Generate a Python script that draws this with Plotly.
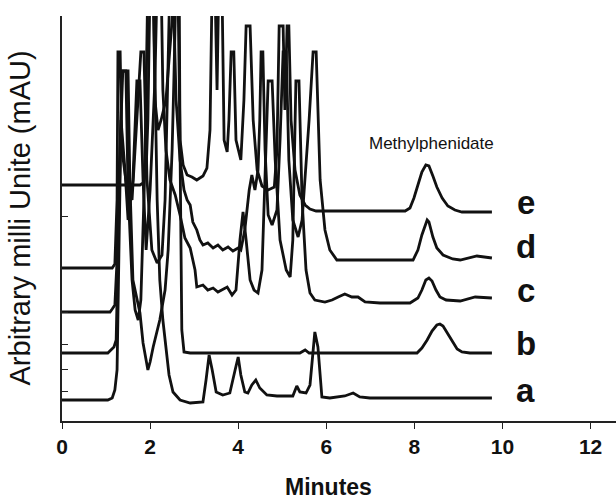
import plotly.graph_objects as go

# ---- data (time in min, signal in arbitrary mAU) ----
t_a = [0, 1.04, 1.14, 1.20, 1.25, 1.29, 1.34, 1.38, 1.45, 1.50, 1.59, 1.66, 1.73, 1.79, 1.88, 1.95, 2.07,
       2.16, 2.22, 2.29, 2.36, 2.43, 2.52, 2.68, 2.91, 3.20, 3.27, 3.34, 3.41, 3.50, 3.65, 3.81, 3.93, 4.00,
       4.06, 4.15, 4.22, 4.31, 4.40, 4.49, 4.65, 4.88, 5.24, 5.33, 5.40, 5.54, 5.63, 5.68, 5.74, 5.81, 5.86,
       5.90, 6.08, 6.42, 6.61, 6.76, 6.99, 9.76]
v_a = [20, 20, 22, 30, 50, 150, 300, 349, 349, 230, 140, 110, 100, 120, 250, 440, 440,
       220, 140, 100, 70, 45, 28, 20, 17, 18, 40, 65, 50, 28, 25, 27, 50, 63,
       45, 28, 27, 35, 40, 32, 25, 24, 24, 34, 28, 27, 35, 60, 88, 73, 40,
       23, 22, 24, 27, 23, 22, 22]

t_b = [0, 1.04, 1.11, 1.18, 1.23, 1.27, 1.32, 1.36, 1.50, 1.54, 1.61, 1.70, 1.77, 1.84, 1.95, 2.00, 2.07,
       2.22, 2.34, 2.41, 2.50, 2.54, 2.59, 2.66, 2.68, 2.72, 2.77, 2.91, 5.40, 5.52, 5.61, 8.06, 8.17, 8.29,
       8.40, 8.51, 8.58, 8.65, 8.76, 8.87, 8.97, 9.08, 9.26, 9.76]
v_b = [67, 67, 70, 73, 80, 170, 270, 349, 349, 240, 140, 120, 107, 77, 50, 58, 73,
       100, 130, 170, 270, 340, 440, 440, 270, 90, 68, 67, 67, 70, 67, 67, 72, 80,
       89, 95, 96, 94, 86, 77, 71, 68, 67, 67]

t_c = [0, 1.09, 1.14, 1.20, 1.25, 1.29, 1.34, 1.43, 1.50, 1.61, 1.70, 1.77, 1.84, 1.91, 2.00, 2.11, 2.16,
       2.25, 2.29, 2.36, 2.45, 2.57, 2.68, 2.79, 2.91, 3.02, 3.06, 3.20, 3.31, 3.43, 3.54, 3.63, 3.75, 3.86,
       3.95, 4.04, 4.11, 4.18, 4.27, 4.36, 4.45, 4.54, 4.63, 4.68, 4.77, 4.84, 4.95, 5.09, 5.18, 5.24, 5.31,
       5.38, 5.45, 5.54, 5.63, 5.74, 5.97, 6.13, 6.27, 6.42, 6.58, 6.72, 6.88, 7.22, 7.90, 8.08, 8.17, 8.26,
       8.33, 8.40, 8.49, 8.58, 8.72, 9.04, 9.38, 9.76]
v_c = [108, 108, 111, 115, 160, 240, 300, 250, 200, 240, 339, 339, 240, 170, 230, 340, 440,
       440, 330, 270, 240, 225, 205, 182, 172, 150, 133, 135, 130, 132, 128, 130, 133, 125,
       130, 180, 208, 180, 140, 130, 127, 150, 270, 339, 339, 260, 180, 150, 143, 180, 339,
       339, 220, 150, 127, 120, 118, 120, 123, 126, 123, 123, 118, 117, 117, 122, 130, 140,
       142, 139, 130, 123, 120, 119, 123, 122]

t_d = [0, 1.14, 1.20, 1.25, 1.27, 1.32, 1.36, 1.48, 1.59, 1.70, 1.79, 1.86, 1.93, 2.04, 2.16, 2.27, 2.34,
       2.41, 2.45, 2.52, 2.59, 2.68, 2.77, 2.84, 2.91, 2.97, 3.06, 3.13, 3.20, 3.31, 3.43, 3.54, 3.65, 3.77,
       3.88, 4.00, 4.06, 4.15, 4.25, 4.31, 4.38, 4.45, 4.49, 4.52, 4.56, 4.61, 4.68, 4.77, 4.88, 4.95, 5.02,
       5.09, 5.15, 5.24, 5.36, 5.45, 5.61, 5.70, 5.77, 5.86, 5.97, 6.08, 6.24, 7.97, 8.08, 8.17, 8.24, 8.29,
       8.33, 8.42, 8.51, 8.65, 8.87, 9.04, 9.42, 9.76]
v_d = [152, 152, 156, 220, 368, 368, 270, 230, 220, 300, 368, 368, 240, 170, 157, 165, 220,
       360, 440, 440, 320, 260, 230, 220, 215, 198, 190, 180, 175, 177, 172, 175, 170, 173,
       169, 172, 170, 190, 230, 245, 230, 250, 300, 368, 368, 270, 205, 195, 210, 280, 368,
       368, 260, 200, 183, 200, 300, 368, 368, 240, 190, 170, 160, 160, 170, 185, 195, 200,
       198, 183, 172, 165, 161, 160, 164, 162]

t_e = [0, 1.77, 1.84, 1.91, 1.95, 2.00, 2.07, 2.11, 2.18, 2.25, 2.36, 2.50, 2.57, 2.63, 2.68, 2.75, 2.84,
       2.95, 3.06, 3.20, 3.29, 3.36, 3.41, 3.47, 3.52, 3.56, 3.63, 3.68, 3.75, 3.79, 3.84, 3.90, 3.95, 4.06,
       4.13, 4.18, 4.27, 4.34, 4.43, 4.54, 4.68, 4.82, 4.88, 4.93, 5.02, 5.06, 5.11, 5.15, 5.20, 5.29, 5.40,
       5.52, 5.63, 5.77, 7.79, 7.90, 7.99, 8.08, 8.17, 8.26, 8.33, 8.42, 8.51, 8.63, 8.76, 8.92, 9.08, 9.76]
v_e = [235, 235, 237, 250, 300, 440, 440, 320, 290, 300, 320, 404, 440, 440, 280, 255, 245,
       243, 240, 244, 252, 290, 440, 440, 330, 440, 440, 280, 268, 300, 368, 368, 280, 260,
       320, 394, 394, 300, 250, 234, 230, 233, 270, 394, 394, 310, 394, 394, 300, 250, 225,
       215, 211, 209, 209, 212, 222, 235, 248, 255, 254, 244, 233, 222, 214, 210, 208, 208]

trace_names = ["a", "b", "c", "d", "e"]
label_pos = [30, 77, 130, 174, 218]          # where each trace letter sits
x_ticks = [0, 2, 4, 6, 8, 10, 12]
y_marks = [29, 51, 76, 108, 204]

fig = go.Figure()
for t, v, name in [(t_a, v_a, "a"), (t_b, v_b, "b"), (t_c, v_c, "c"), (t_d, v_d, "d"), (t_e, v_e, "e")]:
    fig.add_trace(go.Scatter(x=t, y=v, mode="lines", name=name,
                             line=dict(color="#111111", width=2.8), showlegend=False,
                             hoverinfo="skip"))

font = "Liberation Sans, Arial, sans-serif"
for name, yv in zip(trace_names, label_pos):
    fig.add_annotation(x=10.53, y=yv, text="<b>" + name + "</b>", showarrow=False,
                       font=dict(family=font, size=33, color="#111111"),
                       xanchor="center", yanchor="middle")

fig.add_annotation(x=8.38, y=277, text="Methylphenidate", showarrow=False,
                   font=dict(family=font, size=17, color="#111111"),
                   xanchor="center", yanchor="middle")

fig.add_annotation(xref="paper", yref="paper", x=(328 - 62) / 554, y=-0.163,
                   text="<b>Minutes</b>", showarrow=False,
                   font=dict(family=font, size=23, color="#111111"),
                   xanchor="center", yanchor="middle")
fig.add_annotation(xref="paper", yref="paper", x=(19 - 62) / 554, y=0.5, textangle=-90,
                   text="Arbitrary milli Unite (mAU)", showarrow=False,
                   font=dict(family=font, size=29, color="#111111"),
                   xanchor="center", yanchor="middle")

fig.update_layout(
    width=616, height=499,
    margin=dict(l=62, r=0, t=16, b=78),
    paper_bgcolor="white", plot_bgcolor="white",
    xaxis=dict(range=[0, 12.577], showgrid=False, zeroline=False, showline=True,
               linecolor="#222222", linewidth=1.5, ticks="outside", ticklen=6,
               tickcolor="#222222", tickvals=x_ticks,
               ticktext=["<b>%d</b>" % v for v in x_ticks],
               tickfont=dict(family=font, size=21, color="#111111")),
    yaxis=dict(range=[-1, 404], showgrid=False, zeroline=False, showline=True,
               linecolor="#222222", linewidth=1.5, ticks="inside", ticklen=6,
               tickcolor="#222222", tickvals=y_marks, ticktext=[""] * len(y_marks)),
)

fig.write_html("out.html", config={"displayModeBar": False},
               post_script="document.body.style.margin='0';document.body.style.padding='0';")
